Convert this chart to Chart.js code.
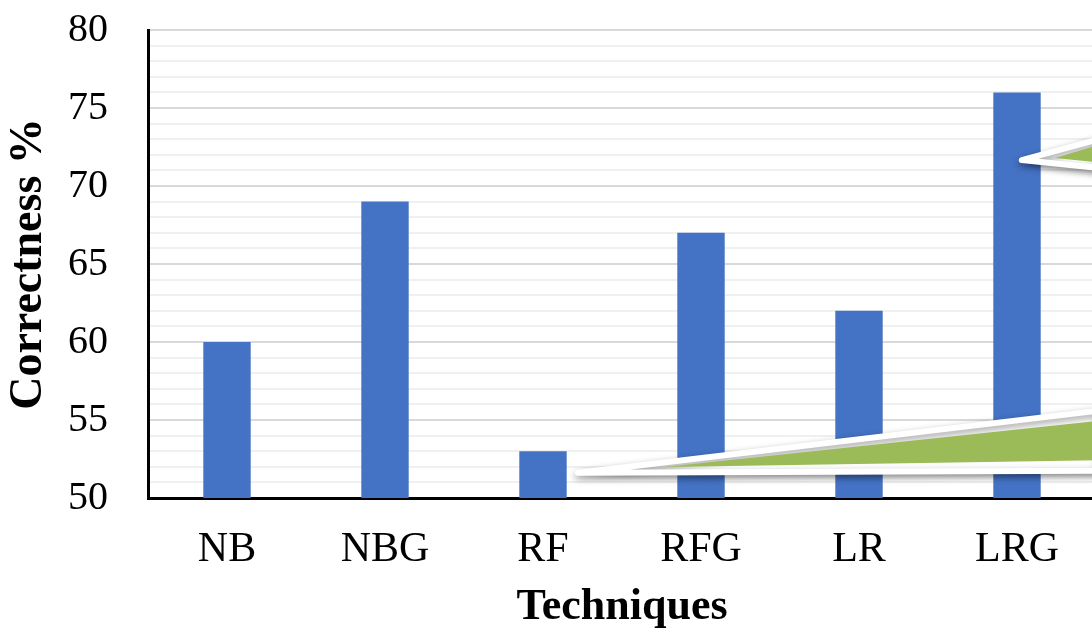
<!DOCTYPE html>
<html>
<head>
<meta charset="utf-8">
<script src="https://cdn.jsdelivr.net/npm/chart.js@4.4.1/dist/chart.umd.min.js"></script>
<style>
  html, body { margin: 0; padding: 0; background: #fff; overflow: hidden; }
  #wrap { width: 1092px; height: 634px; overflow: hidden; }
</style>
</head>
<body>
<div id="wrap"><canvas id="chart1" width="1100" height="634"></canvas></div>
<script>
// data
const techniques = ['NB', 'NBG', 'RF', 'RFG', 'LR', 'LRG'];
const correctness = [60, 69, 53, 67, 62, 76];
const yMin = 50;
const yMax = 80;

const serif = "'Liberation Serif', 'Times New Roman', serif";

// the two green callout arrows, drawn over the bars
// points are [category index, value]
const arrows = [
  {
    outline: [[2.22, 51.62], [5.52, 55.6], [5.52, 51.75]],
    fill: [[2.77, 51.98], [5.52, 54.95], [5.52, 52.42]]
  },
  {
    outline: [[5.03, 71.66], [5.52, 73.0], [5.52, 71.15]],
    fill: [[5.24, 71.8], [5.52, 72.65], [5.52, 71.5]]
  }
];

const arrowPlugin = {
  id: 'arrows',
  afterDatasetsDraw(chart) {
    const { ctx, scales: { x, y } } = chart;
    const pt = p => [x.getPixelForValue(p[0]), y.getPixelForValue(p[1])];
    ctx.save();
    arrows.forEach(a => {
      const o = a.outline.map(pt);
      ctx.save();
      ctx.shadowColor = 'rgba(0,0,0,0.4)';
      ctx.shadowBlur = 7;
      ctx.shadowOffsetY = 3;
      ctx.fillStyle = '#ffffff';
      ctx.strokeStyle = '#ffffff';
      ctx.lineJoin = 'round';
      ctx.lineWidth = 6;
      ctx.beginPath();
      ctx.moveTo(o[0][0], o[0][1]);
      ctx.lineTo(o[1][0], o[1][1]);
      ctx.lineTo(o[2][0], o[2][1]);
      ctx.closePath();
      ctx.fill();
      ctx.stroke();
      ctx.restore();

      const f = a.fill.map(pt);
      ctx.fillStyle = '#9bbb59';
      ctx.beginPath();
      ctx.moveTo(f[0][0], f[0][1]);
      ctx.lineTo(f[1][0], f[1][1]);
      ctx.lineTo(f[2][0], f[2][1]);
      ctx.closePath();
      ctx.fill();
    });
    ctx.restore();
  }
};

const ctx1 = document.getElementById('chart1').getContext('2d');
const chart1 = new Chart(ctx1, {
  type: 'bar',
  data: {
    labels: techniques,
    datasets: [{
      label: 'Correctness %',
      data: correctness,
      backgroundColor: '#4472c4',
      borderWidth: 0,
      barPercentage: 0.3,
      categoryPercentage: 1
    }]
  },
  options: {
    responsive: false,
    animation: false,
    layout: { padding: { top: 30, right: 4, left: 0, bottom: 0 } },
    plugins: {
      legend: { display: false },
      tooltip: { enabled: false }
    },
    scales: {
      x: {
        grid: { display: false, drawTicks: false },
        border: { color: '#000', width: 3 },
        ticks: {
          color: '#000',
          font: { family: serif, size: 42 },
          padding: 27,
          maxRotation: 0
        },
        title: {
          display: true,
          text: 'Techniques',
          color: '#000',
          font: { family: serif, size: 44, weight: 'bold' },
          padding: { top: 0, bottom: 0 }
        },
        afterFit(s) { s.height = 136; }
      },
      y: {
        min: yMin,
        max: yMax,
        grid: {
          drawTicks: true,
          tickLength: 40,
          tickColor: 'rgba(0,0,0,0)',
          lineWidth: 2,
          color: c => (c.tick && c.tick.value % 5 === 0) ? '#d9d9d9' : '#f0f0f0'
        },
        border: { color: '#000', width: 3 },
        ticks: {
          stepSize: 1,
          autoSkip: false,
          color: '#000',
          font: { family: serif, size: 40 },
          padding: 0,
          callback: v => v % 5 === 0 ? v : ''
        },
        title: {
          display: true,
          text: 'Correctness %',
          color: '#000',
          font: { family: serif, size: 46, weight: 'bold' },
          padding: { top: 2, bottom: 0 }
        },
        afterFit(s) { s.width = 148; }
      }
    }
  },
  plugins: [arrowPlugin]
});
</script>
</body>
</html>
